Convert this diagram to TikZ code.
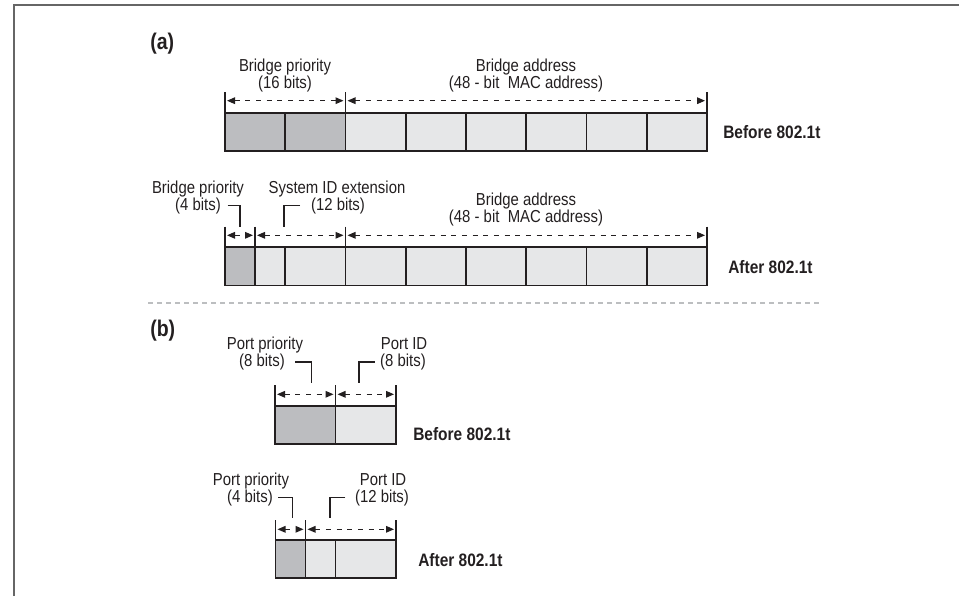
\documentclass[tikz,border=0pt]{standalone}
\usepackage{fontspec}
\setmainfont{Liberation Sans}[FakeStretch=0.86]
\usetikzlibrary{arrows.meta}
\definecolor{prioGray}{HTML}{BCBDC0}
\definecolor{addrGray}{HTML}{E6E7E8}
\definecolor{ink}{HTML}{231F20}
\definecolor{ruleGray}{HTML}{BCBEC0}

\tikzset{
  prio/.style={fill=prioGray,draw=ink,line width=1.2pt},
  addr/.style={fill=addrGray,draw=ink,line width=1.2pt},
  tick/.style={draw=ink,line width=0.8pt},
  span/.style={ink,line width=0.8pt,dash pattern=on 3.75pt off 4.25pt,
    {Triangle[length=6pt,width=5pt]}-{Triangle[length=6pt,width=5pt]},
    shorten <=1.5pt,shorten >=1.5pt},
  lead/.style={ink,line width=0.8pt},
  lbl/.style={font=\fontsize{13}{15}\selectfont,text=ink,inner sep=0pt,anchor=base},
  tag/.style={font=\fontsize{13.5}{16}\selectfont\bfseries,text=ink,inner sep=0pt,anchor=base west},
  part/.style={font=\fontsize{17}{20}\selectfont\bfseries,text=ink,inner sep=0pt,anchor=base west},
}

\begin{document}
\begin{tikzpicture}[x=0.75pt,y=-0.75pt]
  \useasboundingbox (0,0) rectangle (959,596);
  % frame, cut off at right and bottom
  \draw[black!60,line width=1pt] (14,596) -- (14,5) -- (959,5);

  % ---- (a) bridge ID
  \node[part] (pa) at (150,49) {(a)};

  % before 802.1t
  \foreach \a/\b in {225/285,285/345.5}
    \filldraw[prio] (\a,112.7) rectangle (\b,150.7);
  \foreach \a/\b in {345.5/406,406/466,466/526,526/586.5,586.5/647,647/707}
    \filldraw[addr] (\a,112.7) rectangle (\b,150.7);
  \foreach \x in {225,345.5,707}
    \draw[tick] (\x,92) -- (\x,112.7);
  \coordinate (r1p) at (225,100.7);
  \coordinate (r1m) at (345.5,100.7);
  \coordinate (r1e) at (707,100.7);
  \draw[span] (r1p) -- (r1m);
  \draw[span] (r1m) -- (r1e);
  \node[lbl] (bp1) at (285,71) {Bridge priority};
  \node[lbl] (bp1n) at (285,88) {(16 bits)};
  \node[lbl] (ba1) at (526,71) {Bridge address};
  \node[lbl] (ba1n) at (526,88) {(48 - bit~ MAC address)};
  \node[tag] (bf1) at (723,138) {Before 802.1t};

  % after 802.1t
  \filldraw[prio] (225,246.7) rectangle (255,285.3);
  \foreach \a/\b in {255/285,285/345.5,345.5/406,406/466,466/526,526/586.5,586.5/647,647/707}
    \filldraw[addr] (\a,246.7) rectangle (\b,285.3);
  \foreach \x in {225,255,345.5,707}
    \draw[tick] (\x,226.7) -- (\x,246.7);
  \coordinate (r2p) at (225,235.3);
  \coordinate (r2s) at (255,235.3);
  \coordinate (r2m) at (345.5,235.3);
  \coordinate (r2e) at (707,235.3);
  \draw[span] (r2p) -- (r2s);
  \draw[span] (r2s) -- (r2m);
  \draw[span] (r2m) -- (r2e);
  \node[lbl] (bp2) at (198,193) {Bridge priority};
  \node[lbl] (bp2n) at (198,210) {(4 bits)};
  \node[lbl] (sx2) at (337,193) {System ID extension};
  \node[lbl] (sx2n) at (338,210) {(12 bits)};
  \node[lbl] (ba2) at (526,205) {Bridge address};
  \node[lbl] (ba2n) at (526,222) {(48 - bit~ MAC address)};
  \node[tag] (af2) at (728,273) {After 802.1t};
  \coordinate (k2p) at (240,227);
  \coordinate (k2s) at (284,227);
  \draw[lead] ([xshift=5pt]bp2n.east) -| (k2p);
  \draw[lead] ([xshift=-8pt]sx2n.west) -| (k2s);

  % split line
  \draw[ruleGray,line width=1.5pt,dash pattern=on 3.75pt off 3pt] (148,303.3) -- (823,303.3);

  % ---- (b) port ID
  \node[part] (pb) at (150,336) {(b)};

  % before 802.1t
  \filldraw[prio] (275,406) rectangle (335.5,444);
  \filldraw[addr] (335.5,406) rectangle (396,444);
  \foreach \x in {275,335.5,396}
    \draw[tick] (\x,385) -- (\x,406);
  \coordinate (r3p) at (275,394.3);
  \coordinate (r3m) at (335.5,394.3);
  \coordinate (r3e) at (396,394.3);
  \draw[span] (r3p) -- (r3m);
  \draw[span] (r3m) -- (r3e);
  \node[lbl] (pp3) at (265,349) {Port priority};
  \node[lbl] (pp3n) at (262,366.5) {(8 bits)};
  \node[lbl] (pi3) at (404,349) {Port ID};
  \node[lbl] (pi3n) at (403,366.5) {(8 bits)};
  \node[tag] (bf3) at (413,440) {Before 802.1t};
  \coordinate (k3p) at (311.5,383);
  \coordinate (k3i) at (359,383);
  \draw[lead] ([xshift=7.5pt]pp3n.east) -| (k3p);
  \draw[lead] ([xshift=-4pt]pi3n.west) -| (k3i);

  % after 802.1t
  \filldraw[prio] (275.5,540) rectangle (305.5,577.7);
  \foreach \a/\b in {305.5/335.5,335.5/396}
    \filldraw[addr] (\a,540) rectangle (\b,577.7);
  \foreach \x in {275.5,305.5,396}
    \draw[tick] (\x,520) -- (\x,540);
  \coordinate (r4p) at (275.5,529.3);
  \coordinate (r4s) at (305.5,529.3);
  \coordinate (r4e) at (396,529.3);
  \draw[span] (r4p) -- (r4s);
  \draw[span] (r4s) -- (r4e);
  \node[lbl] (pp4) at (251,485) {Port priority};
  \node[lbl] (pp4n) at (250,502) {(4 bits)};
  \node[lbl] (pi4) at (383,485) {Port ID};
  \node[lbl] (pi4n) at (382,502) {(12 bits)};
  \node[tag] (af4) at (418,566) {After 802.1t};
  \coordinate (k4p) at (292.7,518);
  \coordinate (k4i) at (330,518);
  \draw[lead] ([xshift=4pt]pp4n.east) -| (k4p);
  \draw[lead] ([xshift=-7pt]pi4n.west) -| (k4i);
\end{tikzpicture}
\end{document}
